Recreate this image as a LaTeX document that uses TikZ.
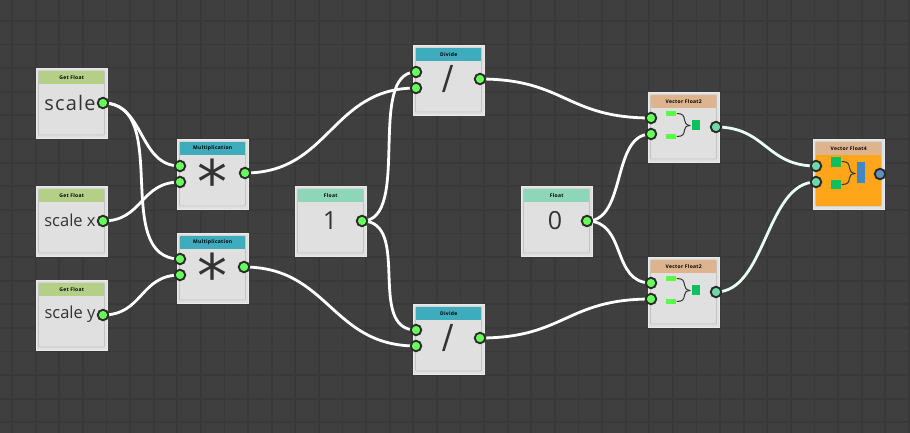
\documentclass[tikz,border=0pt]{standalone}
\usepackage{fontspec}
\setmainfont{Open Sans}
\newfontfamily\symfont{DejaVu Sans}
\newfontfamily\widefont[LetterSpace=6]{Open Sans}
\pgfdeclarelayer{wires}
\pgfdeclarelayer{ports}
\pgfsetlayers{main,wires,ports}
\definecolor{bgc}{HTML}{3F3F3F}
\definecolor{gridc}{HTML}{393939}
\definecolor{boxc}{HTML}{E0E0E0}
\definecolor{edgec}{HTML}{EAEAEA}
\definecolor{innerc}{HTML}{C4C4C4}
\definecolor{getc}{HTML}{B4CF86}
\definecolor{mathc}{HTML}{3FACBE}
\definecolor{floatc}{HTML}{8ED6B8}
\definecolor{vecc}{HTML}{DDB48E}
\definecolor{orangec}{HTML}{FFA51A}
\definecolor{ringc}{HTML}{2B2B2B}
\definecolor{pgreen}{HTML}{66FF5A}
\definecolor{pmint}{HTML}{70D8A8}
\definecolor{pblue}{HTML}{6090C0}
\definecolor{lgreen}{HTML}{55FF44}
\definecolor{dgreen}{HTML}{0CC060}
\definecolor{barc}{HTML}{3F86CC}
\definecolor{inkc}{HTML}{333333}
\definecolor{mintw}{HTML}{E8FFF2}
\tikzset{
  x=1pt,y=-1pt,
  boxnode/.style={anchor=north west,minimum width=71pt,minimum height=70pt,inner sep=0pt,fill=boxc,draw=edgec,line width=1.4pt},
  headnode/.style={anchor=north west,minimum width=65pt,minimum height=13pt,inner sep=0pt,font=\widefont\bfseries\fontsize{5}{5}\selectfont,text=black},
  portnode/.style={circle,minimum size=10.5pt,inner sep=0pt,draw=ringc,line width=1.9pt},
  pg/.style={portnode,fill=pgreen},
  pm/.style={portnode,fill=pmint},
  pb/.style={portnode,fill=pblue},
  wire/.style={draw=white,line width=2.8pt,out=0,in=180,out distance=#1,in distance=#1},
  mwire/.style={wire=#1,draw=mintw},
  valtext/.style={text=inkc,inner sep=0pt},
  brace/.style={draw=inkc,line width=1pt,line cap=round},
}
\newcommand{\gnode}[5]{%
  \node[boxnode] (#1) at (#2,#3) {};
  \draw[innerc,line width=0.8pt,rounded corners=1pt] (#2+2.5,#3+3) rectangle (#2+68.5,#3+67);
  \node[headnode,fill=#4] (#1h) at (#2+3,#3+3) {#5};
}
\newcommand{\vecbrace}[2]{%
  \draw[brace] (#1+29,#2+21.5) .. controls (#1+35,#2+21.5) and (#1+36,#2+24) .. (#1+36.5,#2+28) .. controls (#1+37,#2+31) and (#1+38,#2+33) .. (#1+42,#2+33.5);
  \draw[brace] (#1+29,#2+44.5) .. controls (#1+35,#2+44.5) and (#1+36,#2+42) .. (#1+36.5,#2+38) .. controls (#1+37,#2+35) and (#1+38,#2+34) .. (#1+42,#2+33.5);
}
\newcommand{\vectwoicon}[2]{%
  \fill[lgreen] (#1+18,#2+19) rectangle (#1+28,#2+24);
  \fill[lgreen] (#1+18,#2+42) rectangle (#1+28,#2+47);
  \vecbrace{#1}{#2}
  \fill[dgreen] (#1+44,#2+28) rectangle (#1+52,#2+38);
}
\begin{document}
\begin{tikzpicture}
\useasboundingbox (0,0) rectangle (910,433);
\fill[bgc] (0,0) rectangle (910,433);
\foreach \i in {0,...,38} \draw[gridc,line width=1.8pt] (12+23.6*\i,0) -- (12+23.6*\i,433);
\foreach \j in {0,...,17} \draw[gridc,line width=1.8pt] (0,21+23.6*\j) -- (910,21+23.6*\j);

\gnode{gs}{36}{68}{getc}{Get Float}
\gnode{gx}{36}{186}{getc}{Get Float}
\gnode{gy}{36}{280}{getc}{Get Float}
\gnode{ma}{177}{139}{mathc}{Multiplication}
\gnode{mb}{177}{233}{mathc}{Multiplication}
\gnode{fa}{295}{186}{floatc}{Float}
\gnode{da}{413}{45}{mathc}{Divide}
\gnode{db}{413}{304}{mathc}{Divide}
\gnode{fb}{521}{186}{floatc}{Float}
\gnode{va}{648}{92}{vecc}{Vector Float2}
\gnode{vb}{648}{257}{vecc}{Vector Float2}
\gnode{vc}{813}{139}{vecc}{Vector Float4}
\fill[orangec] (816,155) rectangle (881,206);

\node[valtext,font=\widefont\fontsize{20}{20}\selectfont] (ts) at (70,103) {scale};
\node[valtext,font=\fontsize{16.5}{16.5}\selectfont] (tx) at (70,220) {scale x};
\node[valtext,font=\fontsize{16.5}{16.5}\selectfont] (ty) at (70,314) {scale y};
\node[valtext,font=\fontsize{25}{25}\selectfont] (ta) at (330,221) {1};
\node[valtext,font=\fontsize{25}{25}\selectfont] (tb) at (555,221) {0};
\node[valtext,font=\symfont\fontsize{60}{60}\selectfont] (sa) at (212,181) {*};
\node[valtext,font=\symfont\fontsize{60}{60}\selectfont] (sb) at (212,275) {*};
\node[valtext,font=\symfont\fontsize{33}{33}\selectfont] (qa) at (448.5,79) {/};
\node[valtext,font=\symfont\fontsize{33}{33}\selectfont] (qb) at (448.5,338) {/};

\vectwoicon{648}{92}
\vectwoicon{648}{257}
\fill[dgreen] (831,157) rectangle (841,167);
\fill[dgreen] (831,180) rectangle (841,189);
\vecbrace{813}{140}
\fill[barc] (857,162) rectangle (865,183);

\begin{pgfonlayer}{ports}
\node[pg] (gso) at (103,103) {};
\node[pg] (gxo) at (103,221) {};
\node[pg] (gyo) at (103,315) {};
\node[pg] (mai) at (180,166) {};
\node[pg] (maj) at (180,182) {};
\node[pg] (mao) at (245,173) {};
\node[pg] (mbi) at (180,259) {};
\node[pg] (mbj) at (180,275) {};
\node[pg] (mbo) at (244,267) {};
\node[pg] (fao) at (362,221) {};
\node[pg] (dai) at (416,72) {};
\node[pg] (daj) at (416,88) {};
\node[pg] (dao) at (480,79) {};
\node[pg] (dbi) at (416,330) {};
\node[pg] (dbj) at (416,346) {};
\node[pg] (dbo) at (480,338) {};
\node[pg] (fbo) at (587,221) {};
\node[pg] (vai) at (651,118) {};
\node[pg] (vaj) at (651,134) {};
\node[pm] (vao) at (716,127) {};
\node[pg] (vbi) at (651,283) {};
\node[pg] (vbj) at (651,299) {};
\node[pm] (vbo) at (716,292) {};
\node[pm] (vci) at (816,166) {};
\node[pm] (vcj) at (816,182) {};
\node[pb] (vco) at (880,174) {};
\end{pgfonlayer}

\begin{pgfonlayer}{wires}
\draw[wire=42pt] (gso.center) to (mai.center);
\draw[wire=70pt] (gso.center) to (mbi.center);
\draw[wire=40pt] (gxo.center) to (maj.center);
\draw[wire=40pt] (gyo.center) to (mbj.center);
\draw[wire=85pt] (mao.center) to (daj.center);
\draw[wire=85pt] (mbo.center) to (dbj.center);
\draw[wire=50pt] (fao.center) to (dai.center);
\draw[wire=50pt] (fao.center) to (dbi.center);
\draw[wire=85pt] (dao.center) to (vai.center);
\draw[wire=85pt] (dbo.center) to (vbj.center);
\draw[wire=40pt] (fbo.center) to (vaj.center);
\draw[wire=40pt] (fbo.center) to (vbi.center);
\draw[mwire=50pt] (vao.center) to (vci.center);
\draw[mwire=50pt] (vbo.center) to (vcj.center);
\end{pgfonlayer}
\end{tikzpicture}
\end{document}
